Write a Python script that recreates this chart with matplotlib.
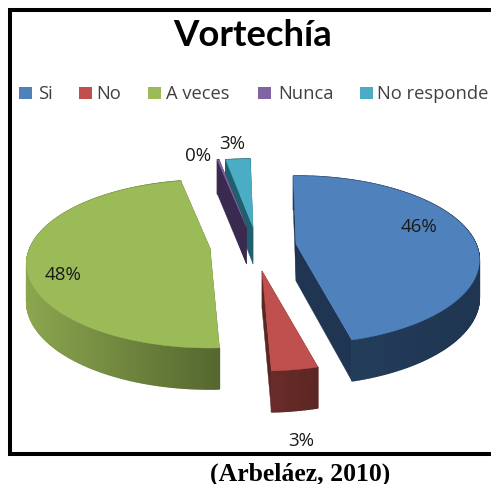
import numpy as np
import matplotlib
matplotlib.use("Agg")
import matplotlib.pyplot as plt
from matplotlib.patches import Polygon, Rectangle

title = "Vortechía"
categories = ["Si", "No", "A veces", "Nunca", "No responde"]
values = [46.2, 3.4, 47.6, 0.2, 2.6]
caption = "(Arbeláez, 2010)"

top_colors = ["#4f81bd", "#c0504d", "#9bbb59", "#8064a2", "#4bacc6"]
wall_light = ["#25405f", "#6a2c29", "#8ba64f", "#3a2a50", "#1f5f6e"]
wall_dark = ["#1f3551", "#5c2624", "#55672f", "#3a2a50", "#1f5f6e"]
centers = [(296, 245), (262, 272), (210, 249), (246.5, 228), (253, 228)]
label_pos = [(419, 227), (301, 441), (63, 275), (198, 156), (232, 144)]
legend_box_x = [19, 79, 148, 258, 360]
legend_text_x = [38, 96, 166, 278, 377]

RX, A, K, DEPTH, START = 180.0, 81.0, 0.19, 37.0, -1.0


def project(center, theta_deg, r=1.0):
    t = np.radians(theta_deg)
    u, v = r * np.sin(t), -r * np.cos(t)
    s = 1.0 / (1.0 - K * v)
    return center[0] + RX * u * s, center[1] + A * v * s, DEPTH * np.sqrt(s)


fig = plt.figure(figsize=(4.91, 4.85), dpi=100)
ax = fig.add_axes([0, 0, 1, 1])
ax.set_xlim(0, 491)
ax.set_ylim(485, 0)
ax.axis("off")

# frame (open on the right, as in the source)
ax.plot([491, 10.5, 10.5, 491], [11, 11, 454.5, 454.5], color="black", lw=2.9,
        solid_joinstyle="miter", zorder=1)

edges = START + np.cumsum([0] + values) * 3.6
draw_order = [4, 3, 2, 0, 1]
for i in draw_order:
    c = centers[i]
    a0, a1 = edges[i], edges[i + 1]
    z = 3 + draw_order.index(i) * 2
    thetas = np.linspace(a0, a1, max(int(a1 - a0) * 2, 4))
    x, y, d = project(c, thetas)
    ax0, ay0 = c
    d0 = DEPTH
    for e in (0, -1):
        ax.add_patch(Polygon([(ax0, ay0), (x[e], y[e]), (x[e], y[e] + d[e]), (ax0, ay0 + d0)],
                             closed=True, fc=wall_dark[i], ec=wall_dark[i], lw=0.3, zorder=z))
    xmin, xmax = x.min(), x.max()
    cl = np.array(matplotlib.colors.to_rgb(wall_light[i]))
    cd = np.array(matplotlib.colors.to_rgb(wall_dark[i]))
    for j in range(len(thetas) - 1):
        f = (x[j] - xmin) / max(xmax - xmin, 1)
        col = cl + (cd - cl) * f
        ax.add_patch(Polygon([(x[j], y[j]), (x[j + 1], y[j + 1]),
                              (x[j + 1], y[j + 1] + d[j + 1]), (x[j], y[j] + d[j])],
                             closed=True, fc=col, ec=col, lw=1.0, zorder=z))
    ax.add_patch(Polygon(np.vstack([[c], np.column_stack([x, y])]), closed=True,
                         fc=top_colors[i], ec=top_colors[i], lw=0.3, zorder=z + 1))

sans = "Open Sans"
total = sum(values)
for v, (lx, ly) in zip(values, label_pos):
    ax.text(lx, ly, f"{round(100 * v / total)}%", ha="center", va="center",
            fontsize=13.5, family=sans, color="#1a1a1a", zorder=30)

ax.text(253, 35, title, ha="center", va="center", fontsize=26.3, family="Lato",
        weight="bold", color="black", zorder=30)

for name, color, bx, tx in zip(categories, top_colors, legend_box_x, legend_text_x):
    ax.add_patch(Rectangle((bx, 88), 13, 12, fc=color, ec="none", zorder=30))
    ax.text(tx, 94, name, ha="left", va="center", fontsize=13.2, family=sans,
            color="#404040", zorder=30)

ax.text(300.5, 474.5, caption, ha="center", va="center", fontsize=18.5,
        family="Liberation Serif", weight="bold", color="black", zorder=30)

fig.savefig("out.png", dpi=100)
